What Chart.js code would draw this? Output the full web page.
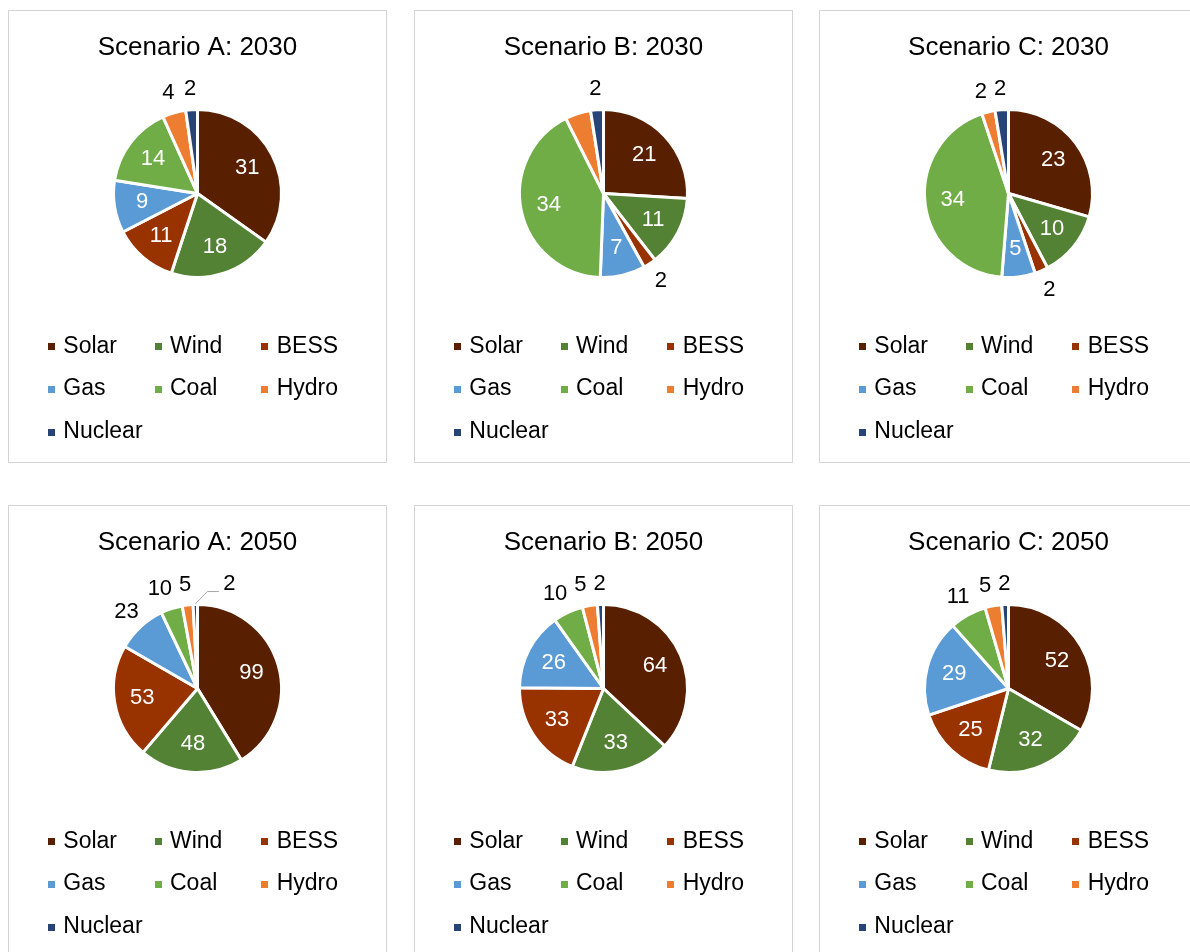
<!DOCTYPE html>
<html>
<head>
<meta charset="utf-8">
<title>Capacity mix by scenario</title>
<script src="https://cdn.jsdelivr.net/npm/chart.js@4.4.1/dist/chart.umd.min.js"></script>
<style>
  html, body { margin: 0; padding: 0; background: #fff; }
  body { width: 1190px; height: 952px; overflow: hidden; position: relative; }
  .panel {
    position: absolute;
    width: 379px; height: 453px;
    box-sizing: border-box;
    border: 1px solid #d4d4d4;
    background: #fff;
  }
  .panel canvas { position: absolute; left: 0; top: 0; }
</style>
</head>
<body>
<div class="panel" style="left:8px;top:10px"><canvas id="a2030" width="377" height="451"></canvas></div>
<div class="panel" style="left:414px;top:10px"><canvas id="b2030" width="377" height="451"></canvas></div>
<div class="panel" style="left:819px;top:10px"><canvas id="c2030" width="377" height="451"></canvas></div>
<div class="panel" style="left:8px;top:505px"><canvas id="a2050" width="377" height="451"></canvas></div>
<div class="panel" style="left:414px;top:505px"><canvas id="b2050" width="377" height="451"></canvas></div>
<div class="panel" style="left:819px;top:505px"><canvas id="c2050" width="377" height="451"></canvas></div>

<script>
// Generation sources, in slice order (clockwise from 12 o'clock)
const SOURCES = ['Solar', 'Wind', 'BESS', 'Gas', 'Coal', 'Hydro', 'Nuclear'];

// Installed capacity per source
const SCENARIO_A_2030 = [31, 18, 11, 9, 14, 4, 2];
const SCENARIO_B_2030 = [21, 11, 2, 7, 34, 4, 2];
const SCENARIO_C_2030 = [23, 10, 2, 5, 34, 2, 2];
const SCENARIO_A_2050 = [99, 48, 53, 23, 10, 5, 2];
const SCENARIO_B_2050 = [64, 33, 33, 26, 10, 5, 2];
const SCENARIO_C_2050 = [52, 32, 25, 29, 11, 5, 2];

const TITLES = [
  'Scenario A: 2030', 'Scenario B: 2030', 'Scenario C: 2030',
  'Scenario A: 2050', 'Scenario B: 2050', 'Scenario C: 2050'
];

// Slices whose value label is left off
const UNLABELED_B_2030 = ['Hydro'];

const SOURCE_COLORS = ['#582000', '#548235', '#983300', '#5B9BD5', '#70AD47', '#ED7D31', '#264478'];
const FONT = '"Liberation Sans", Arial, sans-serif';

// Value labels: white inside a slice when the number fits, otherwise black
// just outside the rim. Neighbouring outside labels are spread apart; one that
// would sit on top of its neighbour is moved aside and tied back with a leader line.
const sliceLabels = {
  id: 'sliceLabels',
  afterDatasetsDraw(chart, args, opts) {
    const ctx = chart.ctx;
    const meta = chart.getDatasetMeta(0);
    const values = chart.data.datasets[0].data;
    const names = chart.data.labels;
    const hidden = opts.hidden || [];
    const border = chart.data.datasets[0].borderWidth || 0;
    const minGap = 7;
    ctx.save();
    ctx.font = opts.size + 'px ' + FONT;
    ctx.textAlign = 'center';
    ctx.textBaseline = 'middle';
    const outside = [];
    meta.data.forEach((arc, i) => {
      if (hidden.includes(names[i])) return;
      const p = arc.getProps(['x', 'y', 'startAngle', 'endAngle', 'outerRadius'], true);
      const mid = (p.startAngle + p.endAngle) / 2;
      const text = String(values[i]);
      const w = ctx.measureText(text).width;
      const r = p.outerRadius - border / 2;
      const chord = 2 * 0.7 * r * Math.sin((p.endAngle - p.startAngle) / 2);
      if (chord >= w + 10) {
        ctx.fillStyle = '#ffffff';
        ctx.fillText(text, p.x + Math.cos(mid) * 0.68 * r, p.y + Math.sin(mid) * 0.68 * r);
        return;
      }
      const cx = p.x + Math.cos(mid) * (r + opts.offset);
      const cy = p.y + Math.sin(mid) * (r + opts.offset);
      const lab = { text, w, cx, cy, leader: null };
      const prev = outside[outside.length - 1];
      const vOverlap = prev && Math.abs(prev.cy - cy) < 16;
      if (prev && vOverlap && cx - w / 2 < prev.cx + prev.w / 2) {
        // collides: move to the right of the neighbour and draw a leader
        const left = prev.cx + prev.w / 2 + 32;
        lab.cx = left + w / 2;
        lab.leader = [
          [p.x + Math.cos(mid) * (r + 2), p.y + Math.sin(mid) * (r + 2)],
          [left - 16, cy + 7.5],
          [left - 4.5, cy + 7.5]
        ];
      } else if (prev && vOverlap) {
        // too tight: nudge the earlier labels counter-clockwise
        let k = outside.length - 1;
        let right = cx - w / 2;
        while (k >= 0) {
          const q = outside[k];
          if (Math.abs(q.cy - cy) > 30) break;
          const gap = right - (q.cx + q.w / 2);
          if (gap >= minGap) break;
          q.cx -= (minGap - gap);
          right = q.cx - q.w / 2;
          k--;
        }
      }
      outside.push(lab);
    });
    outside.forEach(lab => {
      if (lab.leader) {
        ctx.strokeStyle = '#a6a6a6';
        ctx.lineWidth = 1;
        ctx.beginPath();
        lab.leader.forEach((pt, j) => (j ? ctx.lineTo(pt[0], pt[1]) : ctx.moveTo(pt[0], pt[1])));
        ctx.stroke();
      }
      ctx.fillStyle = '#000000';
      ctx.fillText(lab.text, lab.cx, lab.cy);
    });
    ctx.restore();
  }
};

// Legend laid out as a three-column grid under the pie
const gridLegend = {
  id: 'gridLegend',
  afterDraw(chart, args, opts) {
    const ctx = chart.ctx;
    const items = chart.options.plugins.legend.labels.generateLabels(chart);
    ctx.save();
    ctx.font = opts.size + 'px ' + FONT;
    ctx.textAlign = 'left';
    ctx.textBaseline = 'middle';
    items.forEach((item, i) => {
      const col = i % opts.columns;
      const row = Math.floor(i / opts.columns);
      const mx = opts.left + col * opts.colWidth;
      const my = opts.rows[row];
      ctx.fillStyle = item.fillStyle;
      ctx.fillRect(Math.round(mx - 3.5), Math.round(my - 3.5), 7, 7);
      ctx.fillStyle = '#000000';
      ctx.fillText(item.text, mx + 11.8, my);
    });
    ctx.restore();
  }
};

function drawPanel(id, title, values, unlabeled) {
  new Chart(document.getElementById(id), {
    type: 'pie',
    data: {
      labels: SOURCES,
      datasets: [{
        data: values,
        backgroundColor: SOURCE_COLORS,
        borderColor: '#ffffff',
        borderWidth: 3,
        radius: 84
      }]
    },
    options: {
      responsive: false,
      animation: false,
      devicePixelRatio: 1,
      events: [],
      layout: { padding: { top: 0, left: 0, right: 0, bottom: 178.5 } },
      plugins: {
        legend: { display: false },
        tooltip: { enabled: false },
        title: {
          display: true,
          text: title,
          color: '#000000',
          font: { family: FONT, size: 26, weight: 'normal', lineHeight: 1.2 },
          padding: { top: 21.4, bottom: 39.9 }
        },
        sliceLabels: { size: 22, offset: 22, hidden: unlabeled || [] },
        gridLegend: { size: 23, columns: 3, left: 42.5, colWidth: 106.7, rows: [335.5, 378, 421] }
      }
    },
    plugins: [sliceLabels, gridLegend]
  });
}

drawPanel('a2030', TITLES[0], SCENARIO_A_2030);
drawPanel('b2030', TITLES[1], SCENARIO_B_2030, UNLABELED_B_2030);
drawPanel('c2030', TITLES[2], SCENARIO_C_2030);
drawPanel('a2050', TITLES[3], SCENARIO_A_2050);
drawPanel('b2050', TITLES[4], SCENARIO_B_2050);
drawPanel('c2050', TITLES[5], SCENARIO_C_2050);
</script>
</body>
</html>
